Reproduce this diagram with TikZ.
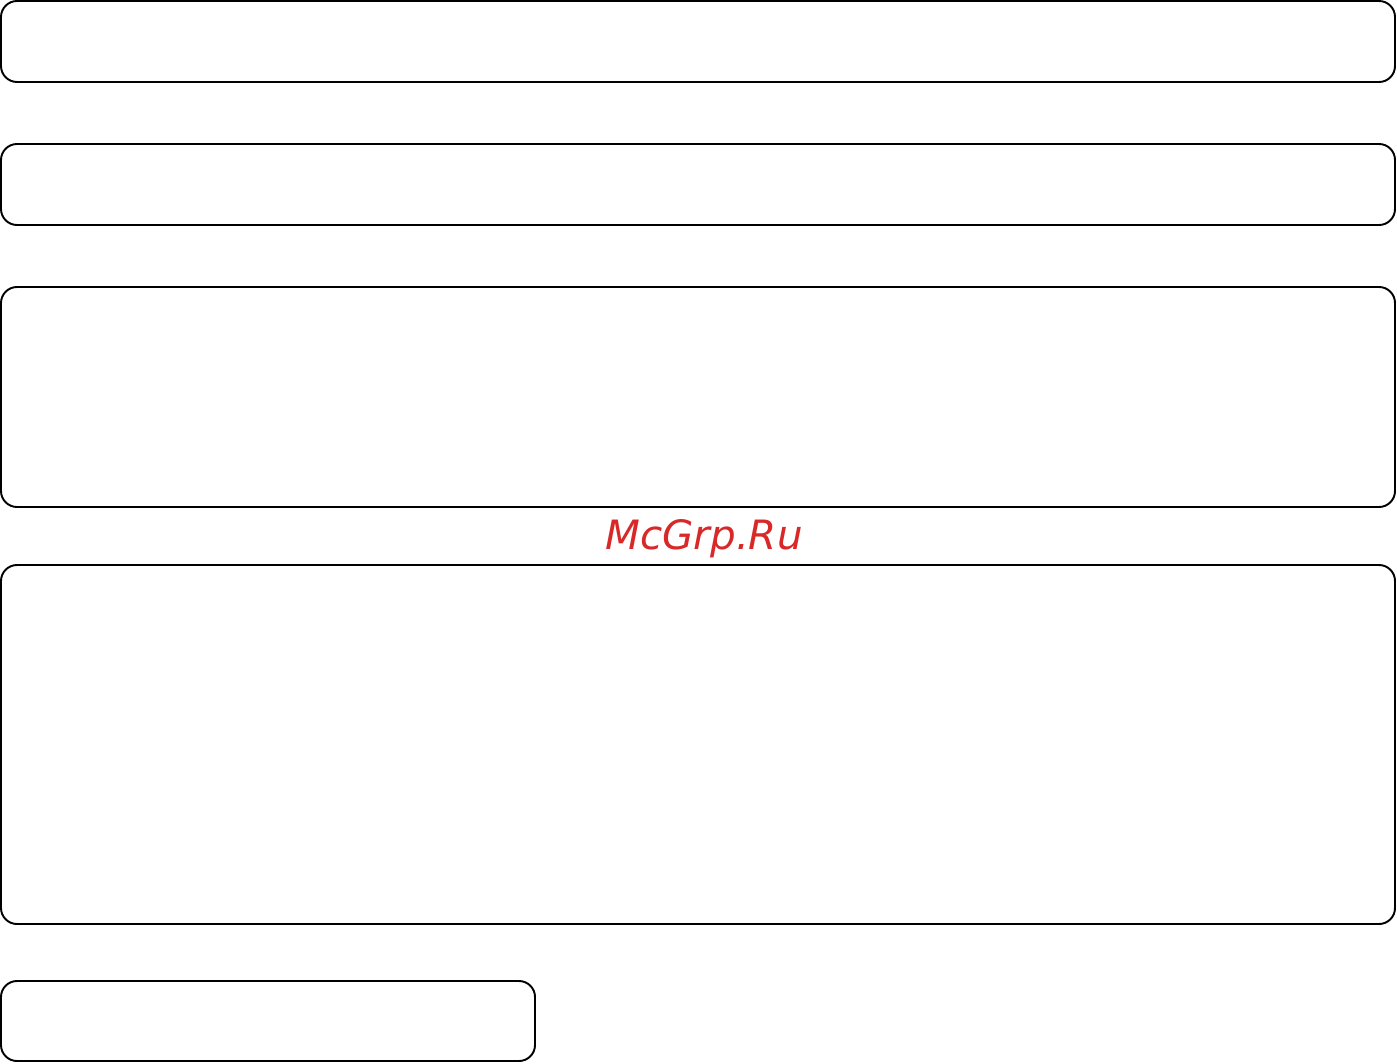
\documentclass[tikz,border=0pt]{standalone}
\usepackage{fontspec}
\newfontfamily\markfont{DejaVu Sans}
\definecolor{markred}{RGB}{216,40,40}

\begin{document}
\begin{tikzpicture} [panel/.style={draw, line width=1.1pt, rounded corners=0.32cm, inner sep=0pt},
 			      sitelabel/.style={text=markred, inner sep=0pt, anchor=base, font=\markfont\itshape\fontsize{23}{23}\selectfont}]
    \useasboundingbox (0,0) rectangle (27.94,-21.28);
    \node[panel, minimum width=27.88cm, minimum height=1.62cm] (panelA) at (13.96,-0.83) {};
    \node[panel, minimum width=27.88cm, minimum height=1.62cm] (panelB) at (13.96,-3.69) {};
    \node[panel, minimum width=27.88cm, minimum height=4.40cm] (panelC) at (13.96,-7.94) {};
    \node[panel, minimum width=27.88cm, minimum height=7.18cm] (panelD) at (13.96,-14.89) {};
    \node[panel, minimum width=10.68cm, minimum height=1.60cm] (panelE) at (5.36,-20.42) {};
    \node[sitelabel] (site) at (14.08,-10.98) {McGrp.Ru};
\end{tikzpicture}
\end{document}
